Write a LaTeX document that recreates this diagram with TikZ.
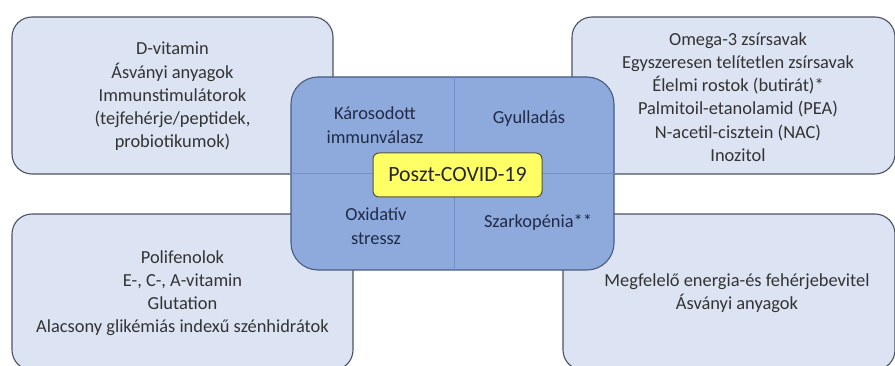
\documentclass[tikz,border=0pt]{standalone}
\usepackage{fontspec}
\setmainfont{Carlito}
\definecolor{outerfill}{HTML}{DCE3F2}
\definecolor{outerdraw}{HTML}{4A5264}
\definecolor{outertext}{HTML}{333333}
\definecolor{ctrfill}{HTML}{8EA9DB}
\definecolor{ctrdraw}{HTML}{4A5A80}
\definecolor{ctrline}{HTML}{7590C6}
\definecolor{ctrtext}{HTML}{1F2B48}
\definecolor{yfill}{HTML}{FFFF66}
\definecolor{ydraw}{HTML}{55553A}
\begin{document}
\begin{tikzpicture}[x=1pt,y=-1pt,
  outerbox/.style={draw=outerdraw, line width=1.1pt, fill=outerfill, rounded corners=20pt, inner sep=0pt},
  boxtext/.style={text=outertext, align=center, inner sep=0pt, font=\fontsize{18.4}{23.2}\selectfont},
  ctrbox/.style={draw=ctrdraw, line width=1.1pt, fill=ctrfill, rounded corners=27pt, inner sep=0pt},
  qlabel/.style={text=ctrtext, align=center, inner sep=0pt, font=\fontsize{18.4}{24}\selectfont},
  ybox/.style={draw=ydraw, line width=1pt, fill=yfill, rounded corners=6pt, inner sep=0pt,
    text=black!85, font=\fontsize{21.8}{25}\selectfont}
]
\useasboundingbox (0,0) rectangle (895,366);
\clip (0,0) rectangle (895,366);
\node[outerbox, minimum width=321pt, minimum height=157pt] (tl) at (172.5,95.5) {};
\node[outerbox, minimum width=341pt, minimum height=156pt] (bl) at (182.5,292) {};
\node[outerbox, minimum width=323pt, minimum height=157pt] (tr) at (733.5,95.5) {};
\node[outerbox, minimum width=332pt, minimum height=156pt] (br) at (729,292) {};
\node[boxtext] (tltext) at (172.5,96.5)
  {D-vitamin\\Ásványi anyagok\\Immunstimulátorok\\(tejfehérje/peptidek,\\probiotikumok)};
\node[boxtext] (bltext) at (182.5,293)
  {Polifenolok\\E-, C-, A-vitamin\\Glutation\\Alacsony glikémiás indexű szénhidrátok};
\node[boxtext] (trtext) at (738,97)
  {Omega-3 zsírsavak\\Egyszeresen telítetlen zsírsavak\\Élelmi rostok (butirát)*\\Palmitoil-etanolamid (PEA)\\N-acetil-cisztein (NAC)\\Inozitol};
\node[boxtext] (brtext) at (737,293.5)
  {Megfelelő energia-és fehérjebevitel\\Ásványi anyagok};
\node[ctrbox, minimum width=323pt, minimum height=193pt] (ctr) at (452.5,173.5) {};
\draw[ctrline, line width=1pt] ([xshift=1.5pt]ctr.north) -- ([xshift=1.5pt]ctr.south);
\draw[ctrline, line width=1pt] (ctr.west) -- (ctr.east);
\node[qlabel] (q1) at (375,125) {Károsodott\\immunválasz};
\node[qlabel] (q2) at (529,119) {Gyulladás};
\node[qlabel] (q3) at (376,226) {Oxidatív\\stressz};
\node[qlabel] (q4) at (538,222) {Szarkopénia**};
\node[ybox, minimum width=169pt, minimum height=44pt] (post) at (457.5,175) {Poszt-COVID-19};
\end{tikzpicture}
\end{document}
